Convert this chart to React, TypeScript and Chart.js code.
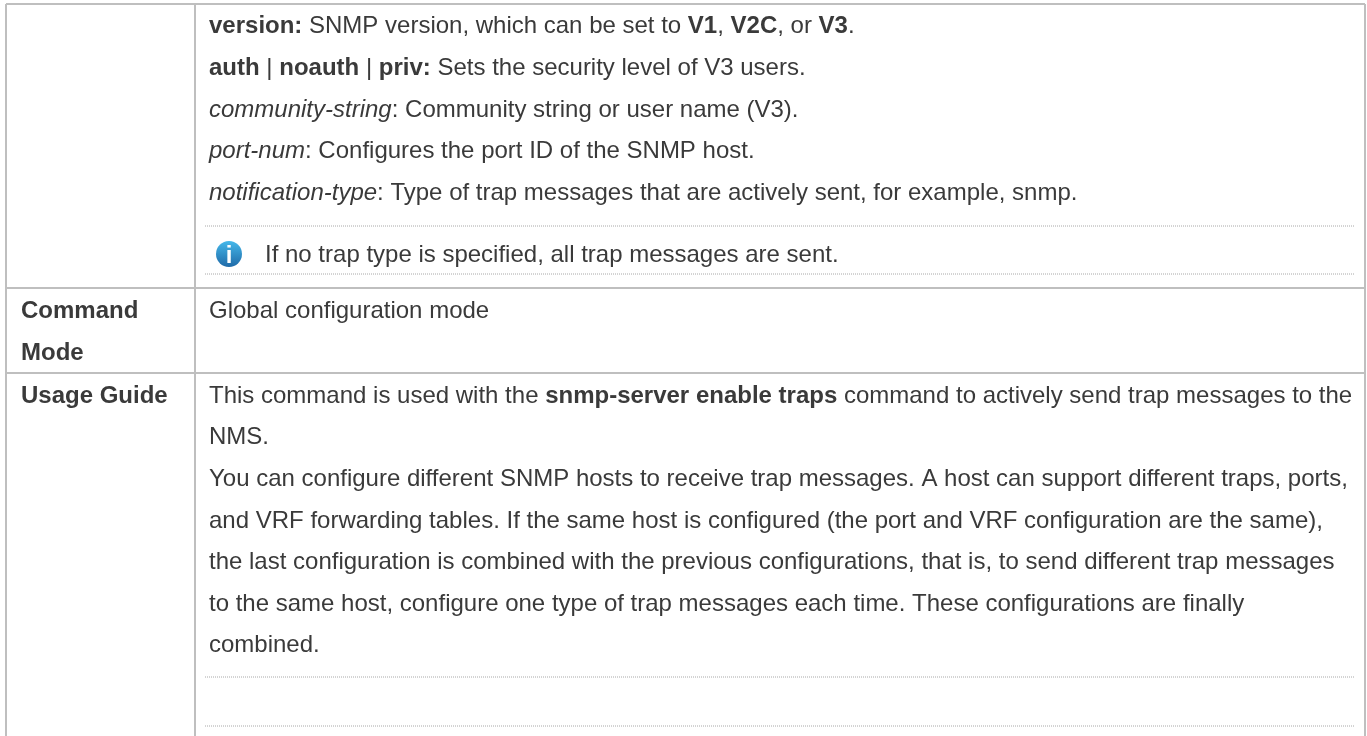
import React, { useEffect, useRef } from "react";
import { Chart, registerables } from "chart.js";

Chart.register(...registerables);

type Run = [string, string];
type Row = { x: number; y: number; runs: Run[] };

// Table structure, in the coordinate system of the two linear scales
const columnEdges = [6, 195, 1365];
const rowEdges = [4, 288, 373];
const tableBottom = 736;
const dottedRows = [226, 274, 677, 726];
const dottedSpan = [205, 1354];
const iconPoint = [{ x: 229, y: 254 }];
const axisWidth = 1367;
const axisHeight = 736;

const headerLabels: Row[] = [
  { x: 21, y: 318, runs: [["b", "Command"]] },
  { x: 21, y: 360, runs: [["b", "Mode"]] },
  { x: 21, y: 403, runs: [["b", "Usage Guide"]] },
];

const parameterLines: Row[] = [
  { x: 209, y: 33, runs: [["b", "version:"], ["n", " SNMP version, which can be set to "], ["b", "V1"], ["n", ", "], ["b", "V2C"], ["n", ", or "], ["b", "V3"], ["n", "."]] },
  { x: 209, y: 75, runs: [["b", "auth"], ["n", " | "], ["b", "noauth"], ["n", " | "], ["b", "priv:"], ["n", " Sets the security level of V3 users."]] },
  { x: 209, y: 117, runs: [["i", "community-string"], ["n", ": Community string or user name (V3)."]] },
  { x: 209, y: 158, runs: [["i", "port-num"], ["n", ": Configures the port ID of the SNMP host."]] },
  { x: 209, y: 200, runs: [["i", "notification-type"], ["n", ": Type of trap messages that are actively sent, for example, snmp."]] },
  { x: 265, y: 262, runs: [["n", "If no trap type is specified, all trap messages are sent."]] },
];

const modeLines: Row[] = [
  { x: 209, y: 318, runs: [["n", "Global configuration mode"]] },
];

const guideLines: Row[] = [
  { x: 209, y: 403, runs: [["n", "This command is used with the "], ["b", "snmp-server enable traps"], ["n", " command to actively send trap messages to the"]] },
  { x: 209, y: 444, runs: [["n", "NMS."]] },
  { x: 209, y: 486, runs: [["n", "You can configure different SNMP hosts to receive trap messages. A host can support different traps, ports,"]] },
  { x: 209, y: 528, runs: [["n", "and VRF forwarding tables. If the same host is configured (the port and VRF configuration are the same),"]] },
  { x: 209, y: 569, runs: [["n", "the last configuration is combined with the previous configurations, that is, to send different trap messages"]] },
  { x: 209, y: 611, runs: [["n", "to the same host, configure one type of trap messages each time. These configurations are finally"]] },
  { x: 209, y: 652, runs: [["n", "combined."]] },
];

const FONT_SIZE = 24;
const FAMILY = '"Liberation Sans", Arial, sans-serif';
const TEXT_COLOR = "#3a3a3a";
const fontFor = (s: string) =>
  `${s === "b" ? "bold " : s === "i" ? "italic " : ""}${FONT_SIZE}px ${FAMILY}`;

const tableText = {
  id: "tableText",
  afterDatasetsDraw(chart: any) {
    const { ctx, scales } = chart;
    ctx.save();
    ctx.fillStyle = TEXT_COLOR;
    ctx.textBaseline = "alphabetic";
    for (const row of [...headerLabels, ...parameterLines, ...modeLines, ...guideLines]) {
      let px = scales.x.getPixelForValue(row.x);
      const py = scales.y.getPixelForValue(row.y);
      for (const [style, text] of row.runs) {
        ctx.font = fontFor(style);
        ctx.fillText(text, px, py);
        px += ctx.measureText(text).width;
      }
    }
    const c = iconPoint[0];
    ctx.font = `bold 24px ${FAMILY}`;
    ctx.fillStyle = "#ffffff";
    ctx.textAlign = "center";
    ctx.fillText("i", scales.x.getPixelForValue(c.x), scales.y.getPixelForValue(c.y + 9));
    ctx.restore();
  },
};

const pageBackground = {
  id: "pageBackground",
  beforeDraw(chart: any) {
    chart.ctx.save();
    chart.ctx.fillStyle = "#ffffff";
    chart.ctx.fillRect(0, 0, chart.width, chart.height);
    chart.ctx.restore();
  },
};

function buildGrid() {
  const pts: any[] = [];
  for (const y of rowEdges) {
    pts.push({ x: columnEdges[0], y }, { x: columnEdges[2], y }, { x: null, y: null });
  }
  for (const x of columnEdges) {
    pts.push({ x, y: rowEdges[0] }, { x, y: tableBottom }, { x: null, y: null });
  }
  return pts;
}

function buildDotted() {
  const pts: any[] = [];
  for (const y of dottedRows) {
    pts.push({ x: dottedSpan[0], y }, { x: dottedSpan[1], y }, { x: null, y: null });
  }
  return pts;
}

export default function App() {
  const ref = useRef<HTMLCanvasElement>(null);
  useEffect(() => {
    const chart = new Chart(ref.current as HTMLCanvasElement, {
      type: "scatter",
      data: {
        datasets: [
          {
            label: "Table rules",
            data: buildGrid(),
            showLine: true,
            spanGaps: false,
            borderColor: "#bfbfbf",
            borderWidth: 2,
            pointRadius: 0,
          },
          {
            label: "Dotted rules",
            data: buildDotted(),
            showLine: true,
            spanGaps: false,
            borderColor: "#a8a8a8",
            borderWidth: 1,
            borderDash: [1, 1],
            pointRadius: 0,
          },
          {
            label: "Note icon",
            data: iconPoint,
            pointRadius: 13,
            pointBorderWidth: 0,
            pointBackgroundColor: (c: any) => {
              const cy = (c.chart.height * iconPoint[0].y) / axisHeight;
              const g = c.chart.ctx.createLinearGradient(0, cy - 13, 0, cy + 13);
              g.addColorStop(0, "#45b8ea");
              g.addColorStop(1, "#1f6aa8");
              return g;
            },
          },
        ],
      },
      options: {
        animation: false,
        responsive: false,
        events: [],
        layout: { padding: 0, autoPadding: false },
        plugins: { legend: { display: false }, tooltip: { enabled: false }, title: { display: false } },
        scales: {
          x: { type: "linear", min: 0, max: axisWidth, display: false },
          y: { type: "linear", min: 0, max: axisHeight, reverse: true, display: false },
        },
      },
      plugins: [pageBackground, tableText],
    } as any);
    return () => chart.destroy();
  }, []);
  return (
    <div style={{ position: "fixed", left: 0, top: 0, width: 1367, height: 736 }}>
      <canvas ref={ref} width={1367} height={736} style={{ display: "block" }} />
    </div>
  );
}
